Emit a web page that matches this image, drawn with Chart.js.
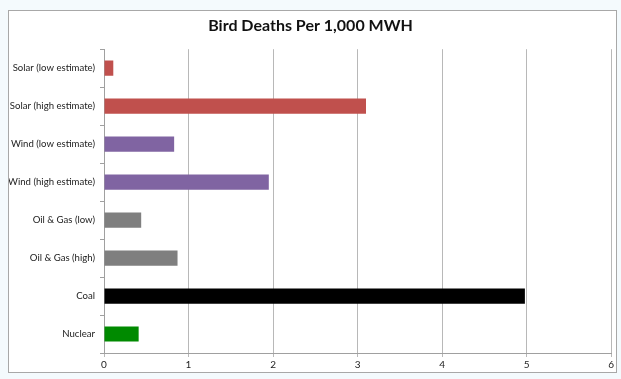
<!DOCTYPE html>
<html>
<head>
<meta charset="utf-8">
<script src="https://cdn.jsdelivr.net/npm/chart.js@4"></script>
<style>
  html, body { margin: 0; padding: 0; background: #f4fafd; }
  body { width: 621px; height: 379px; position: relative; overflow: hidden; }
  #box { position: absolute; left: 8px; top: 10px; width: 607px; height: 361px;
         border: 1px solid #a8a8a8; background: #ffffff; }
  canvas { display: block; }
</style>
</head>
<body>
<div id="box"><canvas id="c" width="607" height="361"></canvas></div>
<script>
const categories = [
  "Solar (low estimate)",
  "Solar (high estimate)",
  "Wind (low estimate)",
  "Wind (high estimate)",
  "Oil & Gas (low)",
  "Oil & Gas (high)",
  "Coal",
  "Nuclear"
];
const birdDeaths = [0.11, 3.10, 0.83, 1.95, 0.44, 0.87, 4.98, 0.41];
const barColors = ["#c0504d", "#c0504d", "#8064a2", "#8064a2", "#7f7f7f", "#7f7f7f", "#000000", "#008a00"];
const xTicks = [0, 1, 2, 3, 4, 5, 6];
const chartTitle = "Bird Deaths Per 1,000 MWH";

new Chart(document.getElementById("c"), {
  type: "bar",
  data: {
    labels: categories,
    datasets: [{
      data: birdDeaths,
      backgroundColor: barColors,
      borderWidth: 0,
      barPercentage: 0.4,
      categoryPercentage: 1.0
    }]
  },
  options: {
    indexAxis: "y",
    responsive: false,
    animation: false,
    layout: { padding: { left: 0, right: 4, top: 0, bottom: 0 } },
    plugins: {
      legend: { display: false },
      tooltip: { enabled: false },
      title: {
        display: true,
        text: chartTitle,
        color: "#111111",
        font: { family: "Lato", size: 16, weight: "bold" },
        padding: { top: 5, bottom: 14 }
      }
    },
    scales: {
      x: {
        min: xTicks[0],
        max: xTicks[xTicks.length - 1],
        afterBuildTicks: (axis) => { axis.ticks = xTicks.map(v => ({ value: v })); },
        afterFit: (axis) => { axis.height = 19; },
        grid: { color: "#b8b8b8", lineWidth: 1, tickLength: 4, drawTicks: true },
        border: { color: "#a0a0a0", width: 1 },
        ticks: { color: "#222222", font: { family: "Lato", size: 10 }, padding: 2 }
      },
      y: {
        offset: true,
        afterFit: (axis) => { axis.width = 95; },
        grid: { drawOnChartArea: false, offset: true, color: "#a0a0a0", tickLength: 4 },
        border: { color: "#a0a0a0", width: 1 },
        ticks: { color: "#222222", font: { family: "Lato", size: 9.6 }, padding: 5 }
      }
    }
  }
});
</script>
</body>
</html>
